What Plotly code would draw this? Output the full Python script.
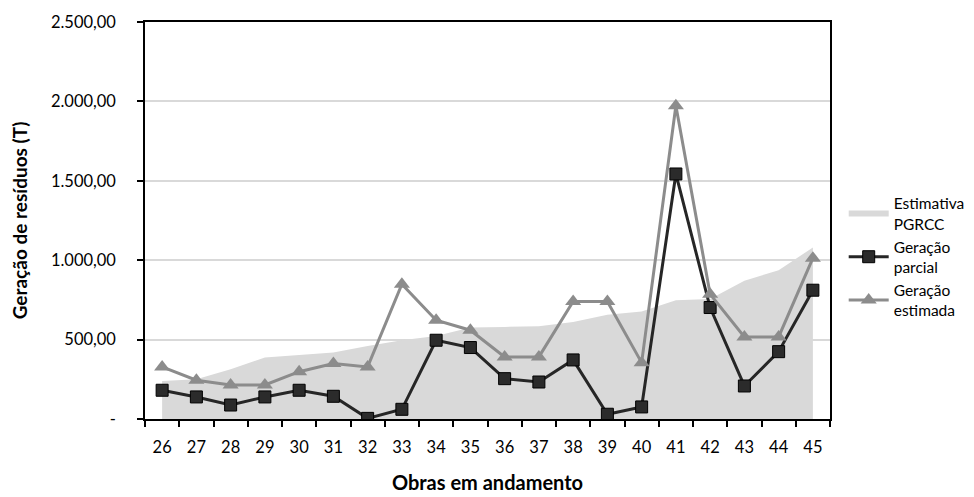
import plotly.graph_objects as go

obras = [str(i) for i in range(26, 46)]
estimativa_pgrcc = [240, 250, 313, 387, 403, 418, 460, 496, 523, 576,
                    580, 584, 611, 656, 677, 748, 755, 870, 937, 1080]
geracao_parcial = [181, 139, 88, 139, 181, 143, 4, 61, 496, 450,
                   254, 233, 372, 30, 76, 1543, 702, 208, 424, 811]
geracao_estimada = [328, 244, 214, 214, 298, 349, 328, 849, 622, 559,
                    391, 391, 740, 740, 355, 1973, 786, 517, 517, 1013]
y_ticks = [0, 500, 1000, 1500, 2000, 2500]
y_tick_labels = ["-", "500,00", "1.000,00", "1.500,00", "2.000,00", "2.500,00"]

font_family = "Lato, 'Open Sans', sans-serif"

fig = go.Figure()
fig.add_trace(go.Scatter(
    x=obras, y=estimativa_pgrcc, name="Estimativa<br>PGRCC",
    mode="none", fill="tozeroy", fillcolor="#d9d9d9",
))
fig.add_trace(go.Scatter(
    x=obras, y=geracao_parcial, name="Geração<br>parcial",
    mode="lines+markers",
    line=dict(color="#262626", width=3),
    marker=dict(symbol="square", size=12, color="#2b2b2b",
                line=dict(color="#000000", width=1)),
))
fig.add_trace(go.Scatter(
    x=obras, y=geracao_estimada, name="Geração<br>estimada",
    mode="lines+markers",
    line=dict(color="#8c8c8c", width=3),
    marker=dict(symbol="triangle-up", size=14, color="#8c8c8c"),
))

fig.update_layout(
    width=974, height=497,
    margin=dict(l=137, r=152, t=14, b=86),
    paper_bgcolor="white", plot_bgcolor="white",
    font=dict(family=font_family, size=16, color="#000000"),
    showlegend=True,
    legend=dict(x=1.02, y=0.585, xanchor="left", yanchor="top",
                font=dict(size=15.5, color="#000000"),
                itemwidth=40, tracegroupgap=0,
                bgcolor="rgba(0,0,0,0)"),
    xaxis=dict(
        type="category", range=[-0.5, 19.5], automargin=False,
        showline=True, linecolor="#000000", linewidth=1.5, mirror=True,
        ticks="outside", tickson="boundaries", ticklen=6,
        tickcolor="#000000", tickwidth=1.5,
        showgrid=False, tickfont=dict(size=16.5), ticklabelstandoff=12,
        title=dict(text="<b>Obras em andamento</b>", font=dict(size=20), standoff=20),
    ),
    yaxis=dict(
        range=[0, 2500], tickvals=y_ticks, ticktext=y_tick_labels,
        automargin=False,
        showline=True, linecolor="#000000", linewidth=1.5, mirror=True,
        ticks="outside", ticklen=6, tickcolor="#000000", tickwidth=1.5,
        showgrid=True, gridcolor="#d9d9d9", gridwidth=1.5,
        zeroline=False, tickfont=dict(size=16.5), ticklabelstandoff=18,
        title=dict(text="<b>Geração de resíduos (T)</b>", font=dict(size=19), standoff=22),
    ),
)

fig.write_html("out.html")
